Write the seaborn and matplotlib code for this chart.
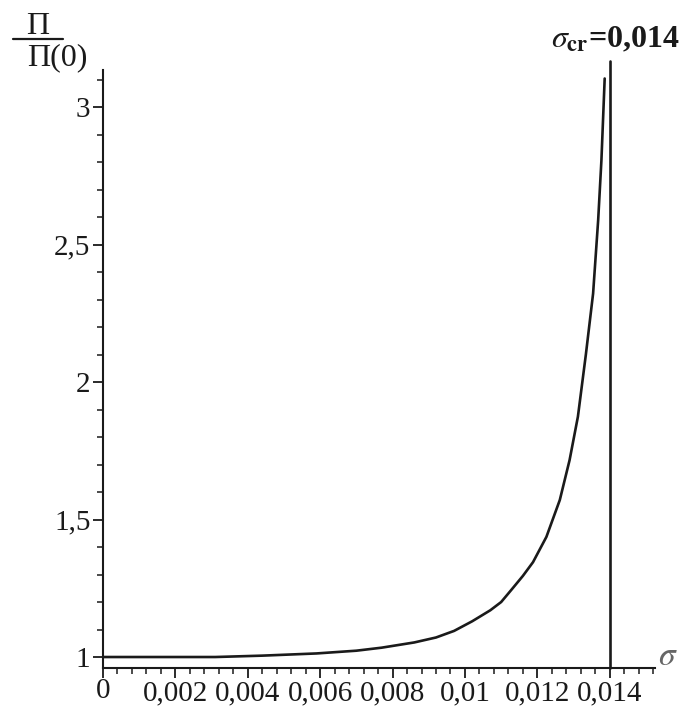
import numpy as np
import pandas as pd
import matplotlib
matplotlib.use('Agg')
import matplotlib.pyplot as plt
import matplotlib.transforms as mtransforms
from matplotlib.lines import Line2D
from matplotlib.ticker import MultipleLocator, FuncFormatter
import seaborn as sns

# Values
sigma = [0.0, 0.0031, 0.0044, 0.0059, 0.0070, 0.0077, 0.0086, 0.0092,
         0.0097, 0.0102, 0.0107, 0.0110, 0.01128, 0.0116, 0.01188,
         0.01225, 0.01262, 0.01289, 0.01312, 0.01334, 0.01354,
         0.01368, 0.01377, 0.01386]
ratio = [1.0, 1.0, 1.005, 1.013, 1.023, 1.034, 1.053, 1.071,
         1.095, 1.13, 1.17, 1.20, 1.244, 1.295, 1.345,
         1.437, 1.571, 1.716, 1.874, 2.10, 2.322,
         2.589, 2.807, 3.104]
sigma_cr = 0.014

x_major = [0, 0.002, 0.004, 0.006, 0.008, 0.01, 0.012, 0.014]
y_major = [1, 1.5, 2, 2.5, 3]

df = pd.DataFrame({'sigma': sigma, 'ratio': ratio})

sns.set_style('ticks')
plt.rcParams['font.family'] = ['Liberation Serif', 'DejaVu Serif']
plt.rcParams['mathtext.fontset'] = 'stix'

fig = plt.figure(figsize=(6.83, 7.2), dpi=100)
ax = fig.add_axes([0.1508, 0.0722, 0.8082, 0.8306])

sns.lineplot(data=df, x='sigma', y='ratio', ax=ax, color='#1a1a1a',
             linewidth=1.9, sort=False)
ax.axvline(sigma_cr, ymin=0, ymax=1.015, color='#1a1a1a', linewidth=1.9,
           clip_on=False)

ax.set_xlim(0, 0.01525)
ax.set_ylim(0.96, 3.135)
ax.set_xlabel('')
ax.set_ylabel('')

sns.despine(ax=ax)
for side in ['left', 'bottom']:
    ax.spines[side].set_linewidth(1.5)
    ax.spines[side].set_color('#1a1a1a')


def comma_fmt(v, pos):
    s = f'{v:.3f}'.rstrip('0').rstrip('.')
    return s.replace('.', ',')


ax.set_xticks(x_major)
ax.xaxis.set_minor_locator(MultipleLocator(0.0004))
ax.set_yticks(y_major)
ax.yaxis.set_minor_locator(MultipleLocator(0.1))
ax.xaxis.set_major_formatter(FuncFormatter(comma_fmt))
ax.yaxis.set_major_formatter(FuncFormatter(comma_fmt))
ax.tick_params(which='major', direction='out', length=7, width=1.3,
               color='#1a1a1a', labelsize=21, labelcolor='#1a1a1a', pad=2)
ax.tick_params(which='minor', direction='out', length=4.5, width=1.1,
               color='#1a1a1a')

# nudge the "0" label a little up, as in the original
lbl0 = ax.get_xticklabels()[0]
lbl0.set_transform(lbl0.get_transform() +
                   mtransforms.ScaledTranslation(0, 1.5 / 72, fig.dpi_scale_trans))

# y title as a fraction: Pi over Pi(0)
fig.text(38 / 683, 1 - 26 / 720, 'Π', fontsize=23, ha='center', va='center',
         color='#1a1a1a')
fig.add_artist(Line2D([13 / 683, 63 / 683], [1 - 39 / 720, 1 - 39 / 720],
                      color='#1a1a1a', linewidth=1.6))
fig.text(27 / 683, 1 - 58 / 720, 'Π(0)', fontsize=23, ha='left', va='center',
         color='#1a1a1a')

# x title and critical stress label
fig.text(0.978, 0.088, r'$\sigma$', fontsize=24, ha='center', va='center',
         color='#666666')
fig.text(0.996, 0.945, r'$\sigma_{\mathbf{cr}}$' + '=0,014', fontsize=23,
         ha='right', va='center', fontweight='bold', color='#1a1a1a')

fig.savefig('out.png', dpi=100)
